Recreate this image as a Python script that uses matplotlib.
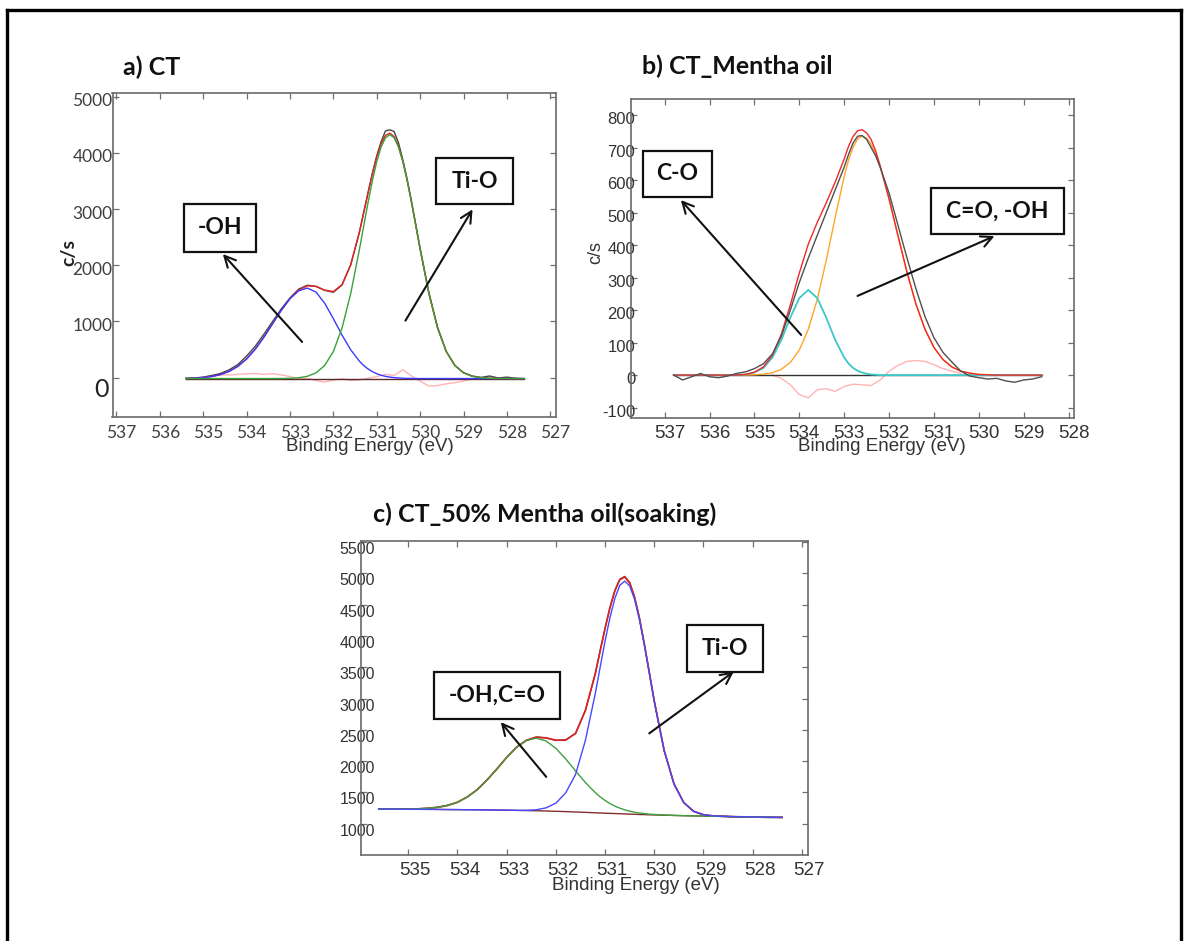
import matplotlib
matplotlib.use("Agg")
import matplotlib.pyplot as plt
from matplotlib.patches import Rectangle, FancyArrowPatch
from matplotlib.lines import Line2D
from matplotlib.transforms import ScaledTranslation

# ---------------- data: panel a) CT ----------------
a_energy = [535.4, 535.2, 535.0, 534.8, 534.6, 534.4, 534.2, 534.0, 533.8, 533.6,
            533.4, 533.2, 533.0, 532.8, 532.6, 532.4, 532.2, 532.0, 531.8, 531.6,
            531.4, 531.3, 531.2, 531.1, 531.0, 530.9, 530.8, 530.7, 530.6, 530.5,
            530.4, 530.3, 530.2, 530.1, 530.0, 529.8, 529.6,
            529.4, 529.2, 529.0, 528.8, 528.6, 528.4, 528.2, 528.0, 527.8, 527.6]
a_raw = [-15, -5, 10, 40, 75, 140, 235, 385, 560, 775, 1000, 1225, 1420, 1575, 1645,
         1625, 1555, 1520, 1650, 2010,
         2590, 2950, 3300, 3640, 3950, 4200, 4390, 4410, 4380, 4180, 3880, 3530, 3140, 2720, 2300,
         1520, 900, 470, 215, 90, 30, 5, 30, -5, 10, -10, -20]
a_envelope = [-11, -7, 3, 22, 56, 113, 203, 333, 508, 722, 963, 1201, 1409, 1560, 1635,
              1624, 1557, 1532, 1657, 2011,
              2589, 2934, 3290, 3632, 3931, 4163, 4310, 4351, 4290, 4115, 3852, 3512, 3122, 2703, 2281,
              1500, 885, 467, 218, 86, 25, -1, -11, -14, -15, -15, -15]
a_oh = [-11, -7, 3, 22, 56, 113, 203, 333, 508, 722, 962, 1200, 1405, 1546, 1595,
        1523, 1324, 1050, 757, 496,
        293, 216, 155, 107, 70, 43, 24, 11, 1, -5, -9, -13, -13, -15, -15,
        -15, -15, -15, -15, -15, -15, -15, -15, -15, -15, -15, -15]
a_tio = [-15, -15, -15, -15, -15, -15, -15, -15, -15, -15, -15, -14, -11, -1, 25,
         86, 218, 467, 885, 1500,
         2281, 2703, 3120, 3510, 3846, 4105, 4269, 4325, 4269, 4105, 3846, 3510, 3120, 2703, 2281,
         1500, 885, 467, 218, 86, 25, -1, -11, -14, -15, -15, -15]
a_background = [-15, -15, -15, -15, -15, -15, -15, -15, -15, -15, -15, -15, -15, -15, -15,
                -15, -15, -15, -15, -15, -15, -15, -15, -15, -15, -15, -15, -15, -15, -15,
                -15, -15, -15, -15, -15, -15, -15, -15, -15, -15, -15, -15, -15, -15, -15,
                -15, -15]
a_res_energy = [534.8, 534.6, 534.4, 534.2, 534.0, 533.8, 533.6, 533.4, 533.2, 533.0,
                532.8, 532.6, 532.4, 532.2, 532.0, 531.8, 531.6, 531.4, 531.2, 531.0,
                530.8, 530.6, 530.4, 530.2, 530.0, 529.8, 529.6, 529.4, 529.2, 529.0, 528.8]
a_residual = [30, 50, 50, 60, 70, 75, 60, 70, 50, 20, -20, -10, -50, -80, -40, -20,
              -50, -40, -10, 20, 60, 40, 140, 30, -60, -150, -140, -110, -90, -60, -20]
a_xticks = [537, 536, 535, 534, 533, 532, 531, 530, 529, 528, 527]
a_yticks = [0, 1000, 2000, 3000, 4000, 5000]

# ---------------- data: panel b) CT_Mentha oil ----------------
b_energy = [536.8, 536.6, 536.4, 536.2, 536.0, 535.8, 535.6, 535.4, 535.2, 535.0,
            534.8, 534.6, 534.4, 534.2, 534.0, 533.8, 533.6, 533.4, 533.2, 533.0,
            532.9, 532.8, 532.7, 532.6, 532.5, 532.4, 532.3, 532.2,
            532.0, 531.8, 531.6, 531.4, 531.2, 531.0,
            530.8, 530.6, 530.4, 530.2, 530.0, 529.8, 529.6, 529.4, 529.2, 529.0,
            528.8, 528.6]
b_raw = [0, -15, -5, 5, -5, -8, -3, 5, 10, 20, 35, 65, 120, 200, 285, 360, 430, 500,
         570, 640, 680, 715, 735, 737, 725, 700, 675, 640,
         560, 460, 360, 265, 180, 115, 70, 40, 12, -3,
         -8, -12, -10, -18, -22, -15, -12, -5]
b_envelope = [0, 0, 0, 0, 0, 0, 0, 0, 2, 9, 25, 61, 126, 216, 314, 403, 470, 530, 594,
              665, 705, 735, 752, 755, 745, 725, 690, 645,
              542, 428, 316, 218, 141, 85, 48, 25, 12, 6, 2, 1,
              0, 0, 0, 0, 0, 0]
b_co = [0, 0, 0, 0, 0, 0, 0, 0, 2, 8, 22, 54, 108, 177, 237, 262, 237, 177, 108, 54,
        35, 22, 13, 8, 4, 2, 1, 0,
        0, 0, 0, 0, 0, 0, 0, 0, 0, 0, 0, 0, 0, 0, 0, 0, 0, 0]
b_coh = [0, 0, 0, 0, 0, 0, 0, 0, 0, 1, 3, 7, 18, 39, 77, 141, 233, 353, 486, 611,
         663, 702, 727, 735, 729, 711, 681, 642,
         542, 428, 316, 218, 141, 85, 48, 25, 12, 6, 2, 1, 0, 0, 0, 0, 0, 0]
b_background = [0, 0, 0, 0, 0, 0, 0, 0, 0, 0, 0, 0, 0, 0, 0, 0, 0, 0, 0, 0, 0, 0, 0,
                0, 0, 0, 0, 0, 0, 0, 0, 0, 0, 0, 0, 0, 0, 0, 0, 0, 0, 0, 0, 0, 0, 0]
b_res_energy = [534.6, 534.4, 534.2, 534.0, 533.8, 533.6, 533.4, 533.2, 533.0, 532.8,
                532.6, 532.4, 532.2, 532.0, 531.8, 531.6, 531.4, 531.2, 531.0, 530.8,
                530.6, 530.4]
b_residual = [0, -10, -30, -60, -70, -45, -42, -50, -35, -28, -30, -32, -15, 12, 30,
              42, 45, 42, 32, 20, 12, 5]
b_xticks = [537, 536, 535, 534, 533, 532, 531, 530, 529, 528]
b_yticks = [-100, 0, 100, 200, 300, 400, 500, 600, 700, 800]

# ---------------- data: panel c) CT_50% Mentha oil(soaking) ----------------
c_energy = [535.6, 535.4, 535.2, 535.0, 534.8, 534.6, 534.4, 534.2, 534.0, 533.8,
            533.6, 533.4, 533.2, 533.0, 532.8, 532.6, 532.4, 532.2, 532.0, 531.8,
            531.6, 531.4, 531.2, 531.1, 531.0, 530.9, 530.8, 530.7, 530.6, 530.5,
            530.4, 530.3, 530.2, 530.1, 530.0, 529.8,
            529.6, 529.4, 529.2, 529.0, 528.8, 528.6, 528.4, 528.2, 528.0, 527.8,
            527.6, 527.4]
c_raw = [1240, 1232, 1236, 1233, 1240, 1248, 1265, 1295, 1340, 1430, 1540, 1700, 1870,
         2060, 2225, 2330, 2385, 2370, 2330, 2340, 2440, 2810,
         3390, 3765, 4120, 4460, 4730, 4905, 4950, 4855, 4620, 4280, 3860, 3415, 2960,
         2170, 1640, 1335, 1195, 1140, 1120, 1120, 1110, 1108, 1112,
         1100, 1098, 1102]
c_envelope = [1235, 1234, 1234, 1235, 1237, 1245, 1261, 1291, 1344, 1426, 1544, 1697,
              1875, 2058, 2219, 2333, 2382, 2372, 2334, 2335, 2444, 2808,
              3397, 3759, 4121, 4452, 4721, 4898, 4941, 4846, 4617, 4277, 3862, 3409, 2958,
              2174, 1636, 1337, 1199, 1144, 1125, 1117,
              1113, 1110, 1108, 1105, 1103, 1100]
c_ohco = [1235, 1234, 1234, 1235, 1237, 1245, 1261, 1291, 1344, 1426, 1544, 1697, 1875,
          2058, 2219, 2329, 2367, 2322, 2204, 2035, 1844, 1658,
          1497, 1429, 1371, 1322, 1281, 1248, 1221, 1200, 1183, 1170, 1161, 1152, 1147,
          1139, 1133, 1128, 1125, 1122, 1119, 1116, 1113, 1110, 1108,
          1105, 1103, 1100]
c_tio = [1235, 1234, 1233, 1232, 1230, 1229, 1228, 1226, 1225, 1223, 1222, 1220, 1218,
         1216, 1213, 1214, 1222, 1253, 1328, 1493, 1787, 2331,
         3075, 3501, 3918, 4295, 4602, 4809, 4876, 4799, 4584, 4254, 3846, 3399, 2951,
         2171, 1635, 1337, 1199, 1144, 1125, 1117, 1113, 1110, 1108,
         1105, 1103, 1100]
c_background = [1235, 1234, 1233, 1232, 1230, 1229, 1228, 1226, 1225, 1223, 1222, 1220,
                1218, 1216, 1213, 1210, 1207, 1203, 1198, 1193, 1187, 1181,
                1175, 1171, 1168, 1165, 1162, 1159, 1156, 1153, 1150, 1147, 1145, 1142, 1140,
                1136, 1132, 1128, 1125, 1122, 1119, 1116,
                1113, 1110, 1108, 1105, 1103, 1100]
c_xticks = [535, 534, 533, 532, 531, 530, 529, 528, 527]
c_yticks = [1000, 1500, 2000, 2500, 3000, 3500, 4000, 4500, 5000, 5500]

# ---------------- figure ----------------
W, H = 1184, 941
fig = plt.figure(figsize=(W / 100, H / 100), dpi=100)
fig.patch.set_facecolor("white")

CAL = ["Lato", "DejaVu Sans"]
ARI = ["Liberation Sans", "DejaVu Sans"]


def fx(x):
    return x / W


def fy(y):
    return 1 - y / H


def axes_px(l, t, r, b):
    return fig.add_axes([fx(l), fy(b), (r - l) / W, (b - t) / H])


def shift(text, dx_px, dy_px):
    text.set_transform(text.get_transform()
                       + ScaledTranslation(dx_px / 100, -dy_px / 100, fig.dpi_scale_trans))


def style(ax, xlim, ylim, xt, yt, xfam, yfam, xsize, ysize, xpad, ypad, lab_color,
          ydy, xdx):
    ax.set_xlim(*xlim)
    ax.set_ylim(*ylim)
    ax.set_xticks(xt)
    ax.set_xticklabels([str(v) for v in xt], family=xfam, fontsize=xsize, color=lab_color)
    ax.set_yticks(yt)
    ax.set_yticklabels([str(v) for v in yt], family=yfam, fontsize=ysize, color=lab_color)
    ax.tick_params(direction="in", length=4, width=0.9, color="#707070",
                   top=True, right=True)
    ax.tick_params(axis="x", pad=xpad)
    ax.tick_params(axis="y", pad=ypad)
    for s in ax.spines.values():
        s.set_color("#6a6a6a")
        s.set_linewidth(1.2)
    for tk in ax.yaxis.get_major_ticks():
        shift(tk.label1, 0, ydy)
    for tk in ax.xaxis.get_major_ticks():
        shift(tk.label1, xdx, 0)


def fig_text(x, y, s, **kw):
    fig.text(fx(x), fy(y), s, **kw)


def box(l, t, r, b, label, size=16.5):
    fig.add_artist(Rectangle((fx(l), fy(b)), (r - l) / W, (b - t) / H,
                             transform=fig.transFigure, facecolor="white",
                             edgecolor="#111111", linewidth=1.6, zorder=5))
    fig_text((l + r) / 2, (t + b) / 2, label, ha="center", va="center",
             family=CAL, fontweight="bold", fontsize=size, color="#111111", zorder=6)


def arrow(x0, y0, x1, y1):
    fig.add_artist(FancyArrowPatch((fx(x0), fy(y0)), (fx(x1), fy(y1)),
                                   transform=fig.transFigure, arrowstyle="->",
                                   mutation_scale=20, linewidth=1.5,
                                   color="#111111", zorder=7))


LW = 1.0

# ---------- panel a ----------
axa = axes_px(112.5, 93.3, 556, 416.7)
axa.plot(a_res_energy, a_residual, color="#ffb4b4", lw=LW)
axa.plot(a_energy, a_background, color="#5a2a2a", lw=LW)
axa.plot(a_energy, a_raw, color="#444444", lw=LW)
axa.plot(a_energy, a_envelope, color="#e82020", lw=LW)
axa.plot(a_energy, a_oh, color="#3a3aff", lw=LW)
axa.plot(a_energy, a_tio, color="#3aa03a", lw=LW)
style(axa, (537.09, 526.87), (-694, 5060), a_xticks, a_yticks, CAL, CAL,
      12.5, 12.5, 6, 0, "#404040", 3, 5)
zero_lab = axa.yaxis.get_major_ticks()[0].label1
zero_lab.set_fontsize(18)
zero_lab.set_color("#222222")
shift(zero_lab, -4, 7)
fig_text(69, 252, "c/s", rotation=90, ha="center", va="center", family=CAL,
         fontweight="bold", fontsize=14, color="#222222")
fig_text(370, 447, "Binding Energy (eV)", ha="center", va="center", family=ARI,
         fontsize=13.5, color="#333333")
fig_text(123, 67, "a) CT", ha="left", va="center", family=CAL, fontweight="bold",
         fontsize=18, color="#111111")

# ---------- panel b ----------
axb = axes_px(631, 99.5, 1074, 418)
axb.plot(b_res_energy, b_residual, color="#ffb4b4", lw=LW)
axb.plot(b_energy, b_background, color="#333333", lw=LW)
axb.plot(b_energy, b_coh, color="#ffa42a", lw=LW)
axb.plot(b_energy, b_co, color="#3cc8c8", lw=1.3)
axb.plot(b_energy, b_envelope, color="#f02828", lw=LW)
axb.plot(b_energy, b_raw, color="#505050", lw=LW)
style(axb, (537.75, 527.88), (-132, 848), b_xticks, b_yticks, ARI, ARI,
      13.5, 12, 5, -3, "#333333", 3, 5)
fig_text(596, 253, "c/s", rotation=90, ha="center", va="center", family=ARI,
         fontsize=13, color="#333333")
fig_text(882, 447, "Binding Energy (eV)", ha="center", va="center", family=ARI,
         fontsize=13.5, color="#333333")
fig_text(642, 66, "b) CT_Mentha oil", ha="left", va="center", family=CAL,
         fontweight="bold", fontsize=18, color="#111111")

# ---------- panel c ----------
axc = axes_px(361, 540.7, 808.3, 855)
axc.plot(c_energy, c_background, color="#803030", lw=LW)
axc.plot(c_energy, c_raw, color="#444444", lw=LW)
axc.plot(c_energy, c_envelope, color="#e02020", lw=1.2)
axc.plot(c_energy, c_ohco, color="#40a040", lw=LW)
axc.plot(c_energy, c_tio, color="#4848ff", lw=LW)
style(axc, (535.96, 526.87), (500, 5521), c_xticks, c_yticks, ARI, ARI,
      13.5, 11.5, 5, -10, "#333333", 6, 7)
fig_text(636, 886, "Binding Energy (eV)", ha="center", va="center", family=ARI,
         fontsize=13.5, color="#333333")
fig_text(373, 514, "c) CT_50% Mentha oil(soaking)", ha="left", va="center",
         family=CAL, fontweight="bold", fontsize=18, color="#111111")

# ---------- annotation boxes and arrows ----------
arrow(304, 344, 221, 252)
arrow(404, 323, 474, 207)
box(184, 204, 256, 252, "-OH")
box(436, 158, 513, 204, "Ti-O")

arrow(803, 337, 679, 198)
arrow(855, 297, 997, 235)
box(643, 151, 712, 197, "C-O")
box(931, 188, 1064, 234, "C=O, -OH")

arrow(548, 779, 499, 720)
arrow(647, 735, 736, 670)
box(434, 672, 560, 719, "-OH,C=O")
box(687, 625, 763, 672, "Ti-O")

# ---------- outer frame ----------
for xs, ys in [([6.5, 6.5], [9.5, 941]), ([6.5, 1180.5], [9.5, 9.5]),
               ([1180.5, 1180.5], [9.5, 941])]:
    fig.add_artist(Line2D([fx(v) for v in xs], [fy(v) for v in ys],
                          transform=fig.transFigure, color="black", linewidth=2.4,
                          zorder=10))

fig.savefig("out.png", dpi=100)
